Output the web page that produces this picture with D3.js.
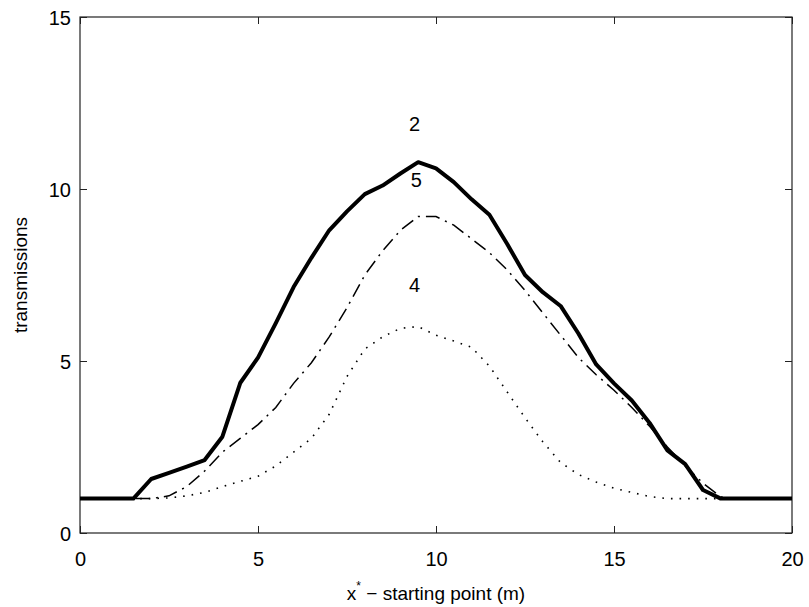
<!DOCTYPE html>
<html><head><meta charset="utf-8">
<script src="https://cdn.jsdelivr.net/npm/d3@7"></script>
<style>body{margin:0;background:#fff}svg{display:block}text{font-family:"Liberation Sans",Arial,sans-serif;fill:#000}</style>
</head><body><svg id="c" width="809" height="607"></svg>
<script>
const xs = [0,0.5,1,1.5,2,2.5,3,3.5,4,4.5,5,5.5,6,6.5,7,7.5,8,8.5,9,9.5,10,10.5,11,11.5,12,12.5,13,13.5,14,14.5,15,15.5,16,16.5,17,17.5,18,18.5,19,19.5,20];
const series2 = [1,1,1,1,1.57,1.75,1.93,2.12,2.8,4.36,5.1,6.1,7.15,8.0,8.8,9.35,9.85,10.1,10.45,10.78,10.6,10.2,9.7,9.25,8.4,7.5,7.0,6.6,5.8,4.9,4.35,3.85,3.2,2.4,2.0,1.25,1.0,1,1,1,1];
const series5 = [1,1,1,1,1,1.08,1.35,1.8,2.35,2.75,3.15,3.65,4.35,4.95,5.7,6.55,7.5,8.2,8.8,9.2,9.2,8.95,8.55,8.15,7.65,7.05,6.4,5.75,5.1,4.6,4.15,3.65,3.1,2.5,1.95,1.45,1.05,1,1,1,1];
const series4 = [1,1,1,1,1,1.02,1.08,1.18,1.35,1.5,1.65,1.95,2.35,2.75,3.45,4.55,5.35,5.7,5.95,6.0,5.75,5.58,5.4,4.85,4.1,3.35,2.65,2.05,1.7,1.48,1.3,1.18,1.06,1.0,1,1,1,1,1,1,1];
const xTicks = [0,5,10,15,20];
const yTicks = [0,5,10,15];
const labels = [{t:"2",x:9.4,y:11.7},{t:"5",x:9.45,y:10.05},{t:"4",x:9.4,y:7.0}];

const svg = d3.select("#c");
const L=80,R=792,T=17,B=533;
const x = d3.scaleLinear().domain([0,20]).range([L,R]);
const y = d3.scaleLinear().domain([0,15]).range([B,T]);
const frameCol="#222";

svg.append("rect").attr("x",L).attr("y",T).attr("width",R-L).attr("height",B-T)
  .attr("fill","none").attr("stroke",frameCol).attr("stroke-width",1.2);

const fs="20px";
const gx = svg.append("g").attr("transform",`translate(0,${B})`)
  .call(d3.axisBottom(x).tickValues(xTicks).tickFormat(d3.format("d")).tickSize(-7).tickPadding(19));
const gxt = svg.append("g").attr("transform",`translate(0,${T})`)
  .call(d3.axisTop(x).tickValues(xTicks).tickFormat("").tickSize(-7));
const gy = svg.append("g").attr("transform",`translate(${L},0)`)
  .call(d3.axisLeft(y).tickValues(yTicks).tickFormat(d3.format("d")).tickSize(-7).tickPadding(9));
const gyr = svg.append("g").attr("transform",`translate(${R},0)`)
  .call(d3.axisRight(y).tickValues(yTicks).tickFormat("").tickSize(-7));
[gx,gxt,gy,gyr].forEach(g=>{
  g.select(".domain").remove();
  g.selectAll(".tick line").attr("stroke",frameCol);
  g.selectAll(".tick text").attr("font-size",fs).attr("font-family",'"Liberation Sans",Arial,sans-serif').attr("fill","#000");
});
gy.selectAll(".tick text").attr("dy","0.35em");

const line = d3.line().x((d,i)=>x(xs[i])).y(d=>y(d));
svg.append("path").datum(series4).attr("d",line).attr("fill","none")
  .attr("stroke","#000").attr("stroke-width",1.6).attr("stroke-dasharray","1.6,7");
svg.append("path").datum(series5).attr("d",line).attr("fill","none")
  .attr("stroke","#000").attr("stroke-width",1.5).attr("stroke-dasharray","14,6,2,6");
svg.append("path").datum(series2).attr("d",line).attr("fill","none")
  .attr("stroke","#000").attr("stroke-width",4).attr("stroke-linejoin","round");

svg.selectAll(".lbl").data(labels).enter().append("text")
  .attr("x",d=>x(d.x)).attr("y",d=>y(d.y)).attr("text-anchor","middle")
  .attr("font-size","20px").text(d=>d.t);

const xt = svg.append("text").attr("x",(L+R)/2).attr("y",600).attr("text-anchor","middle").attr("font-size","19px");
xt.append("tspan").text("x");
xt.append("tspan").attr("dy",-10).attr("font-size","12px").text("*");
xt.append("tspan").attr("dy",10).text(" \u2212 starting point (m)");
svg.append("text").attr("transform",`translate(27,${(T+B)/2}) rotate(-90)`)
  .attr("text-anchor","middle").attr("font-size","19px").text("transmissions");
</script></body></html>
